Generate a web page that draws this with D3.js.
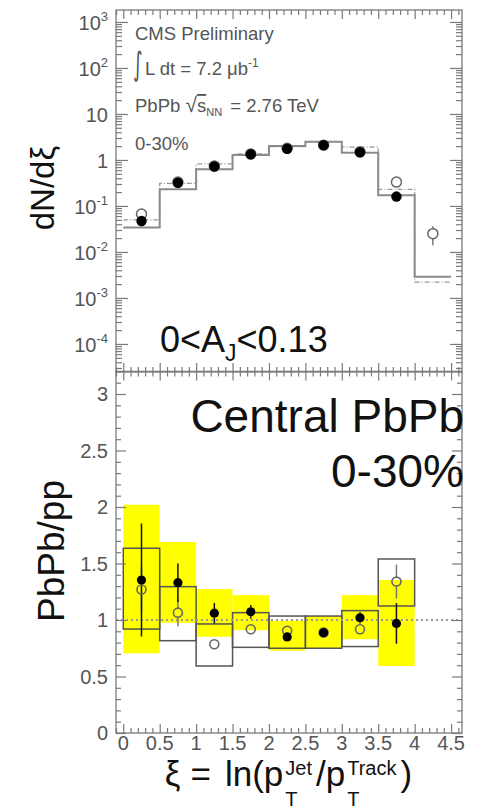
<!DOCTYPE html>
<html>
<head>
<meta charset="utf-8">
<title>xi distribution PbPb/pp</title>
<script src="https://d3js.org/d3.v7.min.js"></script>
<style>
  body { margin: 0; background: #fff; }
  svg { display: block; font-family: "Liberation Sans", Arial, sans-serif; }
  .frame { fill: none; stroke: #7a7a7a; stroke-width: 1.3px; }
  .tk line { stroke: #7a7a7a; stroke-width: 1.2px; }
  .lbl { fill: #555; font-size: 20px; }
  .note { fill: #555; font-size: 18.5px; }
  .big { fill: #111; }
  .hist { fill: none; stroke: #8a8a8a; stroke-width: 2px; }
  .histdash { fill: none; stroke: #9a9a9a; stroke-width: 1.3px; stroke-dasharray: 5 2 1 2; }
  .err { stroke: #111; stroke-width: 1.5px; }
  .errgray { stroke: #777; stroke-width: 1.5px; }
</style>
</head>
<body>
<script>
// bins in xi (lower edges), width 0.5
const binLow = [0, 0.5, 1, 1.5, 2, 2.5, 3, 3.5, 4];
const binWidth = 0.5;

// upper panel: dN/dxi
const histSolid  = [0.034, 0.23, 0.63, 1.28, 2.0, 2.5, 1.44, 0.17, 0.0029];
const histDashed = [0.05, 0.31, 0.82, 1.35, 1.95, 2.5, 1.9, 0.23, 0.0022];
const dndxiFilled = [0.047, 0.32, 0.72, 1.33, 1.75, 2.1, 1.47, 0.16, null];
const dndxiOpen   = [0.067, 0.33, 0.74, 1.35, 1.8, 2.1, 1.5, 0.33, 0.025];
const dndxiOpenErr = [0, 0, 0, 0, 0, 0, 0, 0, 0.011];

// lower panel: PbPb/pp ratio (8 bins)
const ratioFilled    = [1.354, 1.33, 1.06, 1.073, 0.85, 0.888, 1.02, 0.97];
const ratioFilledErr = [0.5, 0.17, 0.09, 0.06, 0.03, 0.03, 0.05, 0.18];
const ratioOpen      = [1.27, 1.065, 0.785, 0.918, 0.905, 0.89, 0.918, 1.34];
const ratioOpenErr   = [0.2, 0.12, 0.04, 0.04, 0.03, 0.03, 0.04, 0.15];
const sysFilledLo = [0.705, 0.976, 0.852, 0.91, 0.728, 0.75, 0.83, 0.593];
const sysFilledHi = [2.02, 1.69, 1.274, 1.22, 0.994, 1.035, 1.22, 1.354];
const sysOpenLo   = [0.92, 0.817, 0.593, 0.758, 0.75, 0.75, 0.765, 1.124];
const sysOpenHi   = [1.635, 1.295, 0.965, 1.065, 1.035, 1.035, 1.083, 1.54];

// tick labels
const xiTicks = [0, 0.5, 1, 1.5, 2, 2.5, 3, 3.5, 4, 4.5];
const xiTickLabels = ["0", "0.5", "1", "1.5", "2", "2.5", "3", "3.5", "4", "4.5"];
const logTicks = [1e3, 1e2, 10, 1, 1e-1, 1e-2, 1e-3, 1e-4];
const logTickBase = ["10", "10", "10", "1", "10", "10", "10", "10"];
const logTickExp = ["3", "2", "", "", "-1", "-2", "-3", "-4"];
const ratioTicks = [0, 0.5, 1, 1.5, 2, 2.5, 3];
const ratioTickLabels = ["0", "0.5", "1", "1.5", "2", "2.5", "3"];

const width = 465, height = 811;
const svg = d3.select('body').append('svg')
    .attr('width', width)
    .attr('height', height);

const x = d3.scaleLinear().domain([-0.1, 4.65]).range([116, 462]);
const yTop = d3.scaleLog().domain([Math.pow(10, -4.61), Math.pow(10, 3.26)]).range([372, 10]);
const yBot = d3.scaleLinear().domain([0, 3.2]).range([733, 371.4]);

const xMajor = d3.range(0, 10).map(i => i * 0.5);
const xMinor = d3.range(-1, 47).map(i => i / 10).filter(v => Math.round(v * 10) % 5 !== 0);
const logMinor = [];
for (let e = -5; e <= 3; e++) {
    for (let k = 2; k <= 9; k++) {
        const v = k * Math.pow(10, e);
        if (v > yTop.domain()[0] && v < yTop.domain()[1]) logMinor.push(v);
    }
}
const ratioMajor = d3.range(0, 7).map(i => i * 0.5);
const ratioMinor = d3.range(0, 33).map(i => i / 10).filter(v => Math.round(v * 10) % 5 !== 0);

function tickSet(axis, values, size, tx, ty) {
    svg.append('g')
        .attr('class', 'tk')
        .attr('transform', 'translate(' + tx + ',' + ty + ')')
        .call(axis.tickValues(values).tickSize(size).tickSizeOuter(0).tickFormat(''))
        .call(g => g.select('.domain').remove());
}

// ---------- lower panel marks ----------
const bins8 = d3.range(8);

svg.append('g').selectAll('rect')
    .data(bins8)
    .join('rect')
    .attr('x', i => x(binLow[i]))
    .attr('width', i => x(binLow[i] + binWidth) - x(binLow[i]))
    .attr('y', i => yBot(sysFilledHi[i]))
    .attr('height', i => yBot(sysFilledLo[i]) - yBot(sysFilledHi[i]))
    .attr('fill', '#ffff00');

svg.append('g').selectAll('rect')
    .data(bins8)
    .join('rect')
    .attr('x', i => x(binLow[i]))
    .attr('width', i => x(binLow[i] + binWidth) - x(binLow[i]))
    .attr('y', i => yBot(sysOpenHi[i]))
    .attr('height', i => yBot(sysOpenLo[i]) - yBot(sysOpenHi[i]))
    .attr('fill', 'none')
    .attr('stroke', '#555')
    .attr('stroke-width', 1.5);

svg.append('line')
    .attr('x1', x(-0.1)).attr('x2', x(4.65))
    .attr('y1', yBot(1)).attr('y2', yBot(1))
    .attr('stroke', '#9a9a9a')
    .attr('stroke-width', 2)
    .attr('stroke-dasharray', '2 3');

function errorBars(g, cx, cy, lo, hi, r, cls) {
    if (hi < cy - r) g.append('line').attr('class', cls).attr('x1', cx).attr('x2', cx).attr('y1', hi).attr('y2', cy - r);
    if (lo > cy + r) g.append('line').attr('class', cls).attr('x1', cx).attr('x2', cx).attr('y1', cy + r).attr('y2', lo);
}

const lowMarks = svg.append('g');
bins8.forEach(i => {
    const cx = x(binLow[i] + binWidth / 2);
    errorBars(lowMarks, cx, yBot(ratioOpen[i]), yBot(ratioOpen[i] - ratioOpenErr[i]), yBot(ratioOpen[i] + ratioOpenErr[i]), 4.5, 'errgray');
    errorBars(lowMarks, cx, yBot(ratioFilled[i]), yBot(ratioFilled[i] - ratioFilledErr[i]), yBot(ratioFilled[i] + ratioFilledErr[i]), 4.5, 'err');
});
lowMarks.selectAll('circle.open')
    .data(bins8)
    .join('circle')
    .attr('class', 'open')
    .attr('cx', i => x(binLow[i] + binWidth / 2))
    .attr('cy', i => yBot(ratioOpen[i]))
    .attr('r', 4.5)
    .attr('fill', 'none')
    .attr('stroke', '#666')
    .attr('stroke-width', 1.6);
lowMarks.selectAll('circle.fill')
    .data(bins8)
    .join('circle')
    .attr('class', 'fill')
    .attr('cx', i => x(binLow[i] + binWidth / 2))
    .attr('cy', i => yBot(ratioFilled[i]))
    .attr('r', 4.6)
    .attr('fill', '#000');

// ---------- upper panel marks ----------
const stepLine = d3.line()
    .x(d => x(d[0]))
    .y(d => yTop(d[1]))
    .curve(d3.curveStepAfter);
const stepPts = v => binLow.map((b, i) => [b, v[i]]).concat([[binLow[8] + binWidth, v[8]]]);

svg.append('path').attr('class', 'histdash').attr('d', stepLine(stepPts(histDashed)));
svg.append('path').attr('class', 'hist').attr('d', stepLine(stepPts(histSolid)));

const topMarks = svg.append('g');
binLow.forEach((b, i) => {
    if (dndxiOpenErr[i] > 0) {
        const v = dndxiOpen[i];
        errorBars(topMarks, x(b + binWidth / 2), yTop(v), yTop(v - dndxiOpenErr[i]), yTop(v + dndxiOpenErr[i]), 5, 'errgray');
    }
});
topMarks.selectAll('circle.open')
    .data(binLow.map((b, i) => i).filter(i => dndxiOpen[i] != null))
    .join('circle')
    .attr('class', 'open')
    .attr('cx', i => x(binLow[i] + binWidth / 2))
    .attr('cy', i => yTop(dndxiOpen[i]))
    .attr('r', 5)
    .attr('fill', '#fff')
    .attr('stroke', '#666')
    .attr('stroke-width', 1.5);
topMarks.selectAll('circle.fill')
    .data(binLow.map((b, i) => i).filter(i => dndxiFilled[i] != null))
    .join('circle')
    .attr('class', 'fill')
    .attr('cx', i => x(binLow[i] + binWidth / 2))
    .attr('cy', i => yTop(dndxiFilled[i]))
    .attr('r', 5.2)
    .attr('fill', '#000');

// ---------- frames and ticks ----------
svg.append('rect').attr('class', 'frame')
    .attr('x', x(-0.1)).attr('y', yTop.range()[1])
    .attr('width', x(4.65) - x(-0.1)).attr('height', yTop.range()[0] - yTop.range()[1]);
svg.append('rect').attr('class', 'frame')
    .attr('x', x(-0.1)).attr('y', yBot(3.2))
    .attr('width', x(4.65) - x(-0.1)).attr('height', yBot(0) - yBot(3.2));

[[d3.axisBottom(x), yTop.range()[1]], [d3.axisTop(x), yTop.range()[0]],
 [d3.axisBottom(x), yBot(3.2)], [d3.axisTop(x), yBot(0)]].forEach(([ax, ty]) => {
    tickSet(ax, xMajor, 9, 0, ty);
    tickSet(ax, xMinor, 5, 0, ty);
});
tickSet(d3.axisRight(yTop), logTicks, 12, x(-0.1), 0);
tickSet(d3.axisRight(yTop), logMinor, 6, x(-0.1), 0);
tickSet(d3.axisLeft(yTop), logTicks, 12, x(4.65), 0);
tickSet(d3.axisLeft(yTop), logMinor, 6, x(4.65), 0);
tickSet(d3.axisRight(yBot), ratioMajor, 10, x(-0.1), 0);
tickSet(d3.axisRight(yBot), ratioMinor, 5, x(-0.1), 0);
tickSet(d3.axisLeft(yBot), ratioMajor, 10, x(4.65), 0);
tickSet(d3.axisLeft(yBot), ratioMinor, 5, x(4.65), 0);

// ---------- tick labels ----------
svg.append('g').selectAll('text')
    .data(xiTicks)
    .join('text')
    .attr('class', 'lbl')
    .attr('x', d => x(d))
    .attr('y', 750)
    .attr('text-anchor', 'middle')
    .text((d, i) => xiTickLabels[i]);

svg.append('g').selectAll('text')
    .data(ratioTicks)
    .join('text')
    .attr('class', 'lbl')
    .attr('x', 108)
    .attr('y', d => yBot(d) + 7)
    .attr('text-anchor', 'end')
    .text((d, i) => ratioTickLabels[i]);

const logLbl = svg.append('g').selectAll('text')
    .data(logTicks)
    .join('text')
    .attr('class', 'lbl')
    .attr('x', 108)
    .attr('y', d => yTop(d) + 8)
    .attr('text-anchor', 'end');
logLbl.append('tspan').text((d, i) => logTickBase[i]);
logLbl.append('tspan')
    .attr('dy', -9)
    .attr('font-size', 13)
    .text((d, i) => logTickExp[i]);

// ---------- axis titles ----------
svg.append('text')
    .attr('class', 'big')
    .attr('transform', 'translate(54,188) rotate(-90)')
    .attr('text-anchor', 'middle')
    .attr('font-size', 33)
    .text('dN/dξ');

svg.append('text')
    .attr('class', 'big')
    .attr('transform', 'translate(64,551) rotate(-90)')
    .attr('text-anchor', 'middle')
    .attr('font-size', 37)
    .text('PbPb/pp');

// x title with stacked sub/superscripts
const xt = svg.append('g');
let cur = 0;
const base = 786;
function piece(t, size, dy) {
    const el = xt.append('text').attr('class', 'big').attr('x', cur).attr('y', base + dy).attr('font-size', size).text(t);
    return el.node().getComputedTextLength();
}
cur += piece('ξ', 35, 0) + 10;
cur += piece('=', 35, 0) + 14;
cur += piece('ln(p', 35, 0) + 2;
let w1 = piece('Jet', 20, -11);
let w2 = piece('T', 20, 20);
cur += Math.max(w1, w2) + 4;
cur += piece('/p', 35, 0) + 2;
w1 = piece('Track', 20, -11);
w2 = piece('T', 20, 20);
cur += Math.max(w1, w2) + 4;
cur += piece(')', 35, 0);
xt.attr('transform', 'translate(' + (288.5 - cur / 2) + ',0)');

// ---------- annotations ----------
svg.append('text').attr('class', 'note').attr('x', 135).attr('y', 40).text('CMS Preliminary');
svg.append('text').attr('class', 'note')
    .attr('transform', 'translate(133,75) scale(1,1.75)')
    .attr('font-size', 24)
    .attr('font-family', '"DejaVu Sans", sans-serif').text('∫');
const lumi = svg.append('text').attr('class', 'note').attr('x', 145).attr('y', 75);
lumi.append('tspan').text('L dt = 7.2 μb');
lumi.append('tspan').attr('dy', -8).attr('font-size', 12).text('-1');
const energy = svg.append('text').attr('class', 'note').attr('x', 135).attr('y', 112);
energy.append('tspan').text('PbPb ');
energy.append('tspan').attr('font-size', 21).text('√');
energy.append('tspan').attr('text-decoration', 'overline').text('s');
energy.append('tspan').attr('dy', 4).attr('font-size', 11).text('NN');
energy.append('tspan').attr('dy', -4).attr('dx', 3).text(' = 2.76 TeV');
svg.append('text').attr('class', 'note').attr('x', 135).attr('y', 150).text('0-30%');

const aj = svg.append('text').attr('class', 'big').attr('x', 160).attr('y', 352).attr('font-size', 36).attr('fill', '#222');
aj.append('tspan').text('0<A');
aj.append('tspan').attr('dy', 9).attr('font-size', 23).text('J');
aj.append('tspan').attr('dy', -9).text('<0.13');

svg.append('text').attr('class', 'big').attr('x', 464).attr('y', 432)
    .attr('text-anchor', 'end').attr('font-size', 46).text('Central PbPb');
svg.append('text').attr('class', 'big').attr('x', 464).attr('y', 487)
    .attr('text-anchor', 'end').attr('font-size', 46).text('0-30%');
</script>
</body>
</html>
